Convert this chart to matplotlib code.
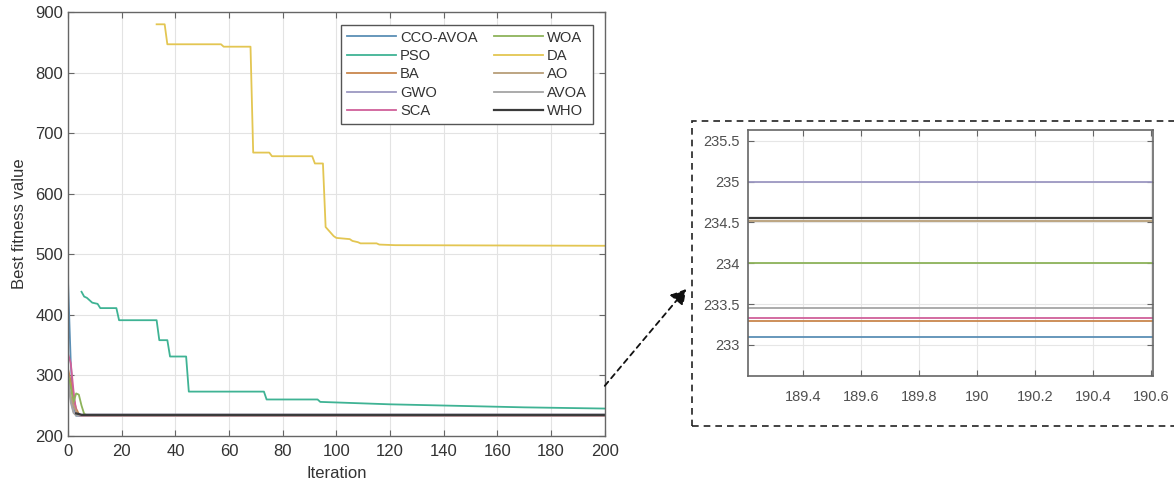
import matplotlib
matplotlib.use("Agg")
import matplotlib.pyplot as plt
from matplotlib.patches import Rectangle, FancyArrowPatch

# ---- data ----
names = ["CCO-AVOA", "PSO", "BA", "GWO", "SCA", "WOA", "DA", "AO", "AVOA", "WHO"]
colors = ["#5b8fb5", "#3fb394", "#c9874d", "#9c98c2", "#d0609a",
          "#8db35a", "#e3c652", "#b79e78", "#a5a5a5", "#3a3a3a"]

cco_it = [0, 1, 2, 3, 200]
cco_v = [452, 320, 250, 233.1, 233.1]

pso_it = [5, 6, 7, 8, 9, 11, 12, 18, 19, 33, 34, 37, 38, 44, 45, 73, 74, 93, 94, 120, 150, 170, 200]
pso_v = [438, 430, 428, 424, 420, 418, 411, 411, 391, 391, 358, 358, 331, 331, 273, 273, 260, 260, 256, 252, 249, 247, 245]

ba_it = [0, 1, 2, 3, 4, 5, 200]
ba_v = [310, 290, 262, 245, 236, 233.29, 233.29]

gwo_it = [0, 1, 2, 3, 200]
gwo_v = [300, 260, 240, 235.0, 235.0]

sca_it = [0, 1, 2, 3, 4, 200]
sca_v = [335, 320, 275, 240, 233.33, 233.33]

woa_it = [0, 1, 2, 3, 4, 5, 6, 7, 200]
woa_v = [300, 280, 255, 270, 268, 250, 236, 234.0, 234.0]

da_it = [33, 36, 37, 57, 58, 68, 69, 75, 76, 91, 92, 95, 96, 97, 99, 100, 105, 106, 108, 109, 115, 116, 122, 200]
da_v = [880, 880, 847, 847, 843, 843, 668, 668, 662, 662, 650, 650, 545, 540, 530, 527, 525, 522, 520, 518, 518, 516, 515, 514]

ao_it = [0, 1, 2, 3, 4, 200]
ao_v = [280, 265, 250, 240, 234.52, 234.52]

avoa_it = [0, 1, 2, 3, 200]
avoa_v = [290, 255, 238, 233.45, 233.45]

who_it = [3, 4, 5, 200]
who_v = [237, 236, 234.55, 234.55]

series_it = [cco_it, pso_it, ba_it, gwo_it, sca_it, woa_it, da_it, ao_it, avoa_it, who_it]
series_v = [cco_v, pso_v, ba_v, gwo_v, sca_v, woa_v, da_v, ao_v, avoa_v, who_v]

x_ticks = [0, 20, 40, 60, 80, 100, 120, 140, 160, 180, 200]
y_ticks = [200, 300, 400, 500, 600, 700, 800, 900]
inset_x_ticks = [189.4, 189.6, 189.8, 190.0, 190.2, 190.4, 190.6]
inset_x_labels = ["189.4", "189.6", "189.8", "190", "190.2", "190.4", "190.6"]
inset_y_ticks = [233.0, 233.5, 234.0, 234.5, 235.0, 235.5]
inset_y_labels = ["233", "233.5", "234", "234.5", "235", "235.5"]

plt.rcParams['font.family'] = ['Liberation Sans', 'DejaVu Sans']
txt = "#333333"
spine_c = "#666666"

fig = plt.figure(figsize=(11.74, 4.88), dpi=100)

# ---- main axes ----
ax = fig.add_axes([0.058, 0.107, 0.457, 0.868])
for i in range(len(names)):
    lw = 1.6 if names[i] == "WHO" else 1.3
    ax.plot(series_it[i], series_v[i], color=colors[i], lw=lw, label=names[i])
ax.set_xlim(0, 200)
ax.set_ylim(200, 900)
ax.set_xticks(x_ticks)
ax.set_yticks(y_ticks)
ax.grid(True, color="#e3e3e3", lw=0.8)
ax.set_axisbelow(True)
ax.tick_params(direction="in", top=True, right=True, labelsize=12, colors=spine_c,
               labelcolor=txt, length=4)
ax.tick_params(axis="x", pad=6)
for s in ax.spines.values():
    s.set_color(spine_c)
    s.set_linewidth(1.0)
ax.set_xlabel("Iteration", fontsize=12, color=txt, labelpad=5)
ax.set_ylabel("Best fitness value", fontsize=12, color=txt, labelpad=6)

handles, labels = ax.get_legend_handles_labels()
leg = ax.legend(handles, labels, ncol=2, loc="upper right", bbox_to_anchor=(0.992, 0.988),
                fontsize=10.6, frameon=True, fancybox=False, framealpha=1,
                edgecolor="#555555", handlelength=3.3, handletextpad=0.3,
                columnspacing=1.1, labelspacing=0.3, borderpad=0.4)
leg.get_frame().set_linewidth(1.0)
for t in leg.get_texts():
    t.set_color(txt)

# ---- inset axes ----
ax2 = fig.add_axes([0.637, 0.2295, 0.345, 0.504])
for i in range(len(names)):
    lw = 1.6 if names[i] == "WHO" else 1.3
    ax2.plot(series_it[i], series_v[i], color=colors[i], lw=lw)
ax2.set_xlim(189.21, 190.605)
ax2.set_ylim(232.62, 235.63)
ax2.set_xticks(inset_x_ticks)
ax2.set_xticklabels(inset_x_labels)
ax2.set_yticks(inset_y_ticks)
ax2.set_yticklabels(inset_y_labels)
ax2.grid(True, color="#e6e6e6", lw=0.8)
ax2.set_axisbelow(True)
ax2.tick_params(direction="in", top=True, right=True, colors=spine_c, labelcolor="#505050",
                length=4, pad=6)
ax2.tick_params(axis="x", pad=10)
for lab in ax2.get_xticklabels() + ax2.get_yticklabels():
    lab.set_fontfamily(['Liberation Sans Narrow', 'Liberation Sans', 'DejaVu Sans'])
    lab.set_fontsize(10.5)
for s in ax2.spines.values():
    s.set_color(spine_c)
    s.set_linewidth(1.2)

# ---- dashed box and arrow ----
rect = Rectangle((0.5894, 0.127), 0.4157, 0.625, transform=fig.transFigure,
                 fill=False, edgecolor="#222222", lw=1.2, linestyle=(0, (4, 3)))
fig.patches.append(rect)
arrow = FancyArrowPatch((0.5136, 0.205), (0.586, 0.412), transform=fig.transFigure,
                        arrowstyle="-|>,head_length=6,head_width=3.5", color="#111111",
                        lw=1.3, linestyle=(0, (3, 2.5)), mutation_scale=1.5)
fig.patches.append(arrow)

fig.savefig("out.png", dpi=100)
